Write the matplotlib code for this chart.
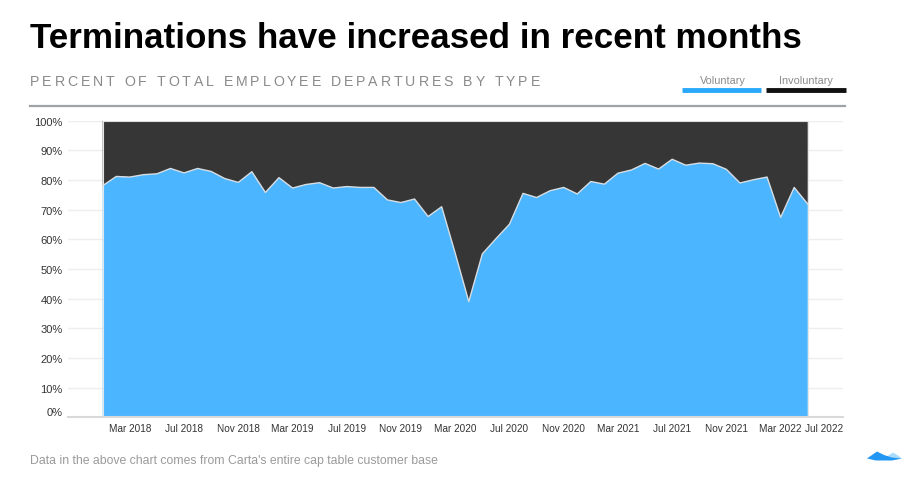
import matplotlib
matplotlib.use("Agg")
import matplotlib.pyplot as plt
from matplotlib.patches import Polygon
from matplotlib.lines import Line2D
from matplotlib.font_manager import FontProperties

# ---------------- data ----------------
months = ["Jan 2018", "Feb 2018", "Mar 2018", "Apr 2018", "May 2018", "Jun 2018", "Jul 2018", "Aug 2018",
          "Sep 2018", "Oct 2018", "Nov 2018", "Dec 2018", "Jan 2019", "Feb 2019", "Mar 2019", "Apr 2019",
          "May 2019", "Jun 2019", "Jul 2019", "Aug 2019", "Sep 2019", "Oct 2019", "Nov 2019", "Dec 2019",
          "Jan 2020", "Feb 2020", "Mar 2020", "Apr 2020", "May 2020", "Jun 2020", "Jul 2020", "Aug 2020",
          "Sep 2020", "Oct 2020", "Nov 2020", "Dec 2020", "Jan 2021", "Feb 2021", "Mar 2021", "Apr 2021",
          "May 2021", "Jun 2021", "Jul 2021", "Aug 2021", "Sep 2021", "Oct 2021", "Nov 2021", "Dec 2021",
          "Jan 2022", "Feb 2022", "Mar 2022", "Apr 2022", "May 2022"]
voluntary = [78.1, 81.2, 81.0, 81.8, 82.1, 83.9, 82.4, 83.9, 82.9, 80.5, 79.2, 82.8, 75.8, 80.8,
             77.3, 78.5, 79.1, 77.3, 77.8, 77.5, 77.5, 73.3, 72.4, 73.6, 67.7, 71.0, 55.3, 39.0,
             55.1, 60.2, 65.1, 75.5, 74.1, 76.4, 77.5, 75.3, 79.5, 78.6, 82.3, 83.4, 85.6, 83.7,
             87.0, 85.0, 85.7, 85.5, 83.6, 79.0, 80.1, 81.0, 67.4, 77.5, 71.9]
involuntary = [21.9, 18.8, 19.0, 18.2, 17.9, 16.1, 17.6, 16.1, 17.1, 19.5, 20.8, 17.2, 24.2, 19.2,
               22.7, 21.5, 20.9, 22.7, 22.2, 22.5, 22.5, 26.7, 27.6, 26.4, 32.3, 29.0, 44.7, 61.0,
               44.9, 39.8, 34.9, 24.5, 25.9, 23.6, 22.5, 24.7, 20.5, 21.4, 17.7, 16.6, 14.4, 16.3,
               13.0, 15.0, 14.3, 14.5, 16.4, 21.0, 19.9, 19.0, 32.6, 22.5, 28.1]
series_names = ["Voluntary", "Involuntary"]
xtick_labels = ["Mar 2018", "Jul 2018", "Nov 2018", "Mar 2019", "Jul 2019", "Nov 2019", "Mar 2020",
                "Jul 2020", "Nov 2020", "Mar 2021", "Jul 2021", "Nov 2021", "Mar 2022"]
last_tick_label = "Jul 2022"
yticks = [0, 10, 20, 30, 40, 50, 60, 70, 80, 90, 100]

title = "Terminations have increased in recent months"
subtitle = "PERCENT OF TOTAL EMPLOYEE DEPARTURES BY TYPE"
footer = "Data in the above chart comes from Carta's entire cap table customer base"

# ---------------- style ----------------
W, H = 917, 485
BLUE = "#4BB5FF"
DARK = "#363636"
FONT = "Liberation Sans"

def fx(px):
    return px / W

def fy(py):
    return 1 - py / H

fig = plt.figure(figsize=(W / 100, H / 100), dpi=100)
fig.patch.set_facecolor("white")

# axes placement (pixel based)
L, R, T, B = 68, 843, 121.7, 418.3
ax = fig.add_axes([fx(L), fy(B), (R - L) / W, (B - T) / H])

x = list(range(len(months)))
ax.stackplot(x, voluntary, involuntary, colors=[BLUE, DARK], linewidth=0, zorder=2)
ax.plot(x, voluntary, color="#d6dde2", lw=1.0, zorder=3)
tops = [v + i for v, i in zip(voluntary, involuntary)]
ax.plot(x, tops, color="#dddddd", lw=0.8, zorder=3)
ax.plot([x[0], x[0]], [0, tops[0]], color="#e6e6e6", lw=0.8, zorder=3)
ax.plot([x[-1], x[-1]], [0, tops[-1]], color="#e6e6e6", lw=0.8, zorder=3)

ax.set_xlim(-2.56, 54.6)
ax.set_ylim(0, 100)
ax.set_axisbelow(True)
for s in ["top", "right", "left"]:
    ax.spines[s].set_visible(False)
ax.spines["bottom"].set_color("#d9d9d9")
ax.spines["bottom"].set_linewidth(1.5)
ax.spines["bottom"].set_zorder(4)

ax.set_yticks(yticks)
ax.set_yticklabels([f"{v}%" for v in yticks], fontsize=8, color="#333333", family=FONT)
ax.tick_params(axis="y", length=0, pad=4)
ax.get_yticklabels()[0].set_verticalalignment("bottom")
ax.yaxis.grid(True, color="#eeeeee", lw=1)

# x tick labels
ax.set_xticks([])
tick_idx = [months.index(lbl) for lbl in xtick_labels]
for k, lbl in zip(tick_idx, xtick_labels):
    ax.annotate(lbl, xy=(k, 0), xycoords="data", xytext=(0, -11), textcoords="offset pixels",
                ha="center", va="center", fontsize=7.2, color="#333333", family=FONT,
                annotation_clip=False)
ax.annotate(last_tick_label, xy=(1, 0), xycoords="axes fraction", xytext=(0, -11),
            textcoords="offset pixels", ha="right", va="center", fontsize=7.2,
            color="#333333", family=FONT, annotation_clip=False)

# title
fig.text(fx(30), fy(48), title, fontsize=25.2, fontweight="bold", family=FONT,
         color="black", ha="left", va="baseline")

# subtitle with letter spacing
renderer = fig.canvas.get_renderer()
prop = FontProperties(family=FONT, size=10.2)
widths = [renderer.get_text_width_height_descent(c, prop, ismath=False)[0] for c in subtitle]
target = 510
track = (target - sum(widths)) / (len(subtitle) - 1)
cx = 30
for c, w in zip(subtitle, widths):
    fig.text(fx(cx), fy(85.5), c, fontproperties=prop, color="#8a8a8a", ha="left", va="baseline")
    cx += w + track

# legend
fig.text(fx(723), fy(80.5), series_names[0], fontsize=7.8, color="#8a8a8a", family=FONT,
         ha="center", va="center")
fig.text(fx(806), fy(80.5), series_names[1], fontsize=7.8, color="#8a8a8a", family=FONT,
         ha="center", va="center")
fig.add_artist(Line2D([fx(682), fx(761)], [fy(90.5), fy(90.5)], color="#2AA8FA", lw=3.5,
                      solid_capstyle="butt"))
fig.add_artist(Line2D([fx(766), fx(846)], [fy(90.5), fy(90.5)], color="#111111", lw=3.5,
                      solid_capstyle="butt"))

# separator line
fig.add_artist(Line2D([fx(30), fx(845)], [fy(107), fy(107)], color="#9ea3a8", lw=1.6))

# footer
fig.text(fx(30), fy(461), footer, fontsize=8.85, color="#9a9a9a", family=FONT,
         ha="left", va="center")

# logo
logo_main = [(867, 459.5), (872, 456), (877, 452.5), (884, 456), (892, 458.5), (902, 459.5),
             (892, 461.5), (876, 461.5)]
logo_light = [(887, 457.5), (893, 453.5), (898, 456.5), (902, 459.5), (893, 459)]
fig.add_artist(Polygon([(fx(a), fy(b)) for a, b in logo_light], closed=True,
                       transform=fig.transFigure, color="#a9dcfb", lw=0))
fig.add_artist(Polygon([(fx(a), fy(b)) for a, b in logo_main], closed=True,
                       transform=fig.transFigure, color="#2196F3", lw=0))

fig.savefig("out.png", dpi=100)
